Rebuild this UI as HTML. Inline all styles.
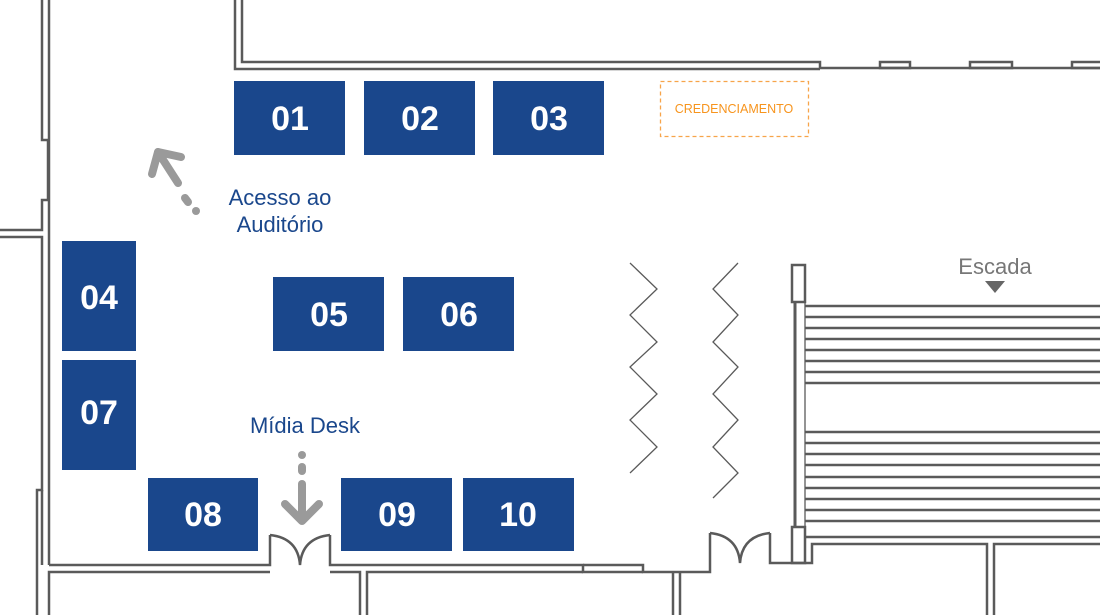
<!DOCTYPE html>
<html><head><meta charset="utf-8"><style>
html,body{margin:0;padding:0;background:#fff;width:1100px;height:615px;overflow:hidden}
svg{display:block}
.w{stroke:#5a5a5a;stroke-width:2.5;fill:none}
.t{stroke:#5a5a5a;stroke-width:1.3;fill:none}
.b{fill:#1a478c}
.n{fill:#fff;font-family:"Liberation Sans",sans-serif;font-weight:bold;font-size:34px;text-anchor:middle}
.l{fill:#1a478c;font-family:"Liberation Sans",sans-serif;font-size:22px;text-anchor:middle}
</style></head><body>
<svg width="1100" height="615" viewBox="0 0 1100 615" xmlns="http://www.w3.org/2000/svg">
<!-- left walls -->
<polyline class="w" points="42,0 42,140 48,140 48,200 42,200 42,230 0,230"/>
<line class="w" x1="49" y1="0" x2="49" y2="565"/>
<polyline class="w" points="0,237 42,237 42,490 37,490 37,615"/>
<line class="w" x1="42" y1="490" x2="42" y2="565"/>
<!-- top auditorium -->
<polyline class="w" points="235,0 235,69 820,69"/>
<polyline class="w" points="242,0 242,62 820,62 820,68 1100,68"/>
<rect class="w" x="880" y="62" width="30" height="6"/>
<rect class="w" x="970" y="62" width="42" height="6"/>
<rect class="w" x="1072" y="62" width="30" height="6"/>
<!-- bottom wall -->
<polyline class="w" points="49,565 270,565 270,535"/>
<polyline class="w" points="49,615 49,572 270,572"/>
<polyline class="w" points="330,535 330,565 583,565 583,572 643,572"/>
<polyline class="w" points="330,572 360,572 360,615"/>
<polyline class="w" points="583,565 643,565 643,572 710,572 710,533"/>
<polyline class="w" points="367,615 367,572 583,572"/>
<line class="w" x1="673" y1="572" x2="673" y2="615"/>
<line class="w" x1="680" y1="572" x2="680" y2="615"/>
<polyline class="w" points="770,533 770,563 805,563"/>
<!-- doors -->
<path class="w" d="M270,535 Q298,538 300,565 Q302,538 330,535"/>
<path class="w" d="M710,533 Q738,536 740,563 Q742,536 770,533"/>
<!-- stairs -->
<rect class="w" x="792" y="265" width="13" height="37"/>
<rect class="w" x="792" y="527" width="13" height="36"/>
<line class="w" x1="795" y1="302" x2="795" y2="527" style="stroke-width:3"/>
<line class="t" x1="805" y1="302" x2="805" y2="527"/>
<g class="w">
<line x1="805" y1="306" x2="1100" y2="306"/><line x1="805" y1="317" x2="1100" y2="317"/>
<line x1="805" y1="328" x2="1100" y2="328"/><line x1="805" y1="339" x2="1100" y2="339"/>
<line x1="805" y1="350" x2="1100" y2="350"/><line x1="805" y1="361" x2="1100" y2="361"/>
<line x1="805" y1="372" x2="1100" y2="372"/><line x1="805" y1="383" x2="1100" y2="383"/>
<line x1="805" y1="432" x2="1100" y2="432"/><line x1="805" y1="443" x2="1100" y2="443"/>
<line x1="805" y1="454" x2="1100" y2="454"/><line x1="805" y1="465" x2="1100" y2="465"/>
<line x1="805" y1="477" x2="1100" y2="477"/><line x1="805" y1="488" x2="1100" y2="488"/>
<line x1="805" y1="499" x2="1100" y2="499"/><line x1="805" y1="510" x2="1100" y2="510"/>
<line x1="805" y1="521" x2="1100" y2="521"/><line x1="805" y1="537" x2="1100" y2="537"/>
</g>
<polyline class="w" points="805,563 812,563 812,544 987,544 987,615"/>
<polyline class="w" points="1100,544 994,544 994,615"/>
<!-- zigzags -->
<polyline class="t" points="630,263 657,289 630,315 657,342 630,367 657,394 630,420 657,447 630,473"/>
<polyline class="t" points="738,263 713,289 738,315 713,342 738,367 713,394 738,420 713,447 738,473 713,498"/>
<!-- escada -->
<text x="995" y="274" style="fill:#777;font-family:'Liberation Sans',sans-serif;font-size:22px;text-anchor:middle">Escada</text>
<polygon points="985,281 1005,281 995,293" fill="#666"/>
<!-- credenciamento -->
<rect x="660.5" y="81.5" width="148" height="55" fill="none" stroke="#f7a44a" stroke-width="1.3" stroke-dasharray="4,3"/>
<text x="734" y="113" style="fill:#f7941d;font-family:'Liberation Sans',sans-serif;font-size:12.5px;text-anchor:middle">CREDENCIAMENTO</text>
<!-- booths -->
<rect class="b" x="234" y="81" width="111" height="74"/><text class="n" x="290" y="130">01</text>
<rect class="b" x="364" y="81" width="111" height="74"/><text class="n" x="420" y="130">02</text>
<rect class="b" x="493" y="81" width="111" height="74"/><text class="n" x="549" y="130">03</text>
<rect class="b" x="62" y="241" width="74" height="110"/><text class="n" x="99" y="309">04</text>
<rect class="b" x="62" y="360" width="74" height="110"/><text class="n" x="99" y="424">07</text>
<rect class="b" x="273" y="277" width="111" height="74"/><text class="n" x="329" y="326">05</text>
<rect class="b" x="403" y="277" width="111" height="74"/><text class="n" x="459" y="326">06</text>
<rect class="b" x="148" y="478" width="110" height="73"/><text class="n" x="203" y="526">08</text>
<rect class="b" x="341" y="478" width="111" height="73"/><text class="n" x="397" y="526">09</text>
<rect class="b" x="463" y="478" width="111" height="73"/><text class="n" x="518" y="526">10</text>
<!-- labels -->
<text class="l" x="280" y="205">Acesso ao</text>
<text class="l" x="280" y="232">Auditório</text>
<text class="l" x="305" y="433">Mídia Desk</text>
<!-- arrows -->
<g stroke="#9a9a9a" stroke-width="8" stroke-linecap="round" stroke-linejoin="round" fill="none">
<line x1="196" y1="211" x2="196" y2="211"/>
<line x1="185" y1="198" x2="188" y2="202"/>
<line x1="178" y1="183" x2="158" y2="152"/>
<polyline points="152,174 158,152 181,157"/>
<line x1="302" y1="455" x2="302" y2="455"/>
<line x1="302" y1="467" x2="302" y2="471"/>
<line x1="302" y1="484" x2="302" y2="520"/>
<polyline points="285,504 302,521 319,504"/>
</g>
</svg>
</body></html>
